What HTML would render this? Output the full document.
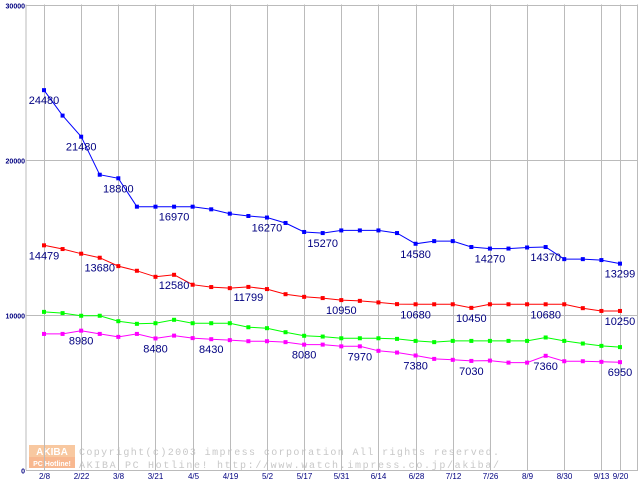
<!DOCTYPE html>
<html><head><meta charset="utf-8"><style>
html,body{margin:0;padding:0;background:#fff;}
svg{display:block;}
</style></head><body>
<svg id="chart" width="640" height="480" viewBox="0 0 640 480" xmlns="http://www.w3.org/2000/svg" font-family="'Liberation Sans', sans-serif">
<g id="wm">
  <rect x="29" y="445" width="46" height="12" fill="#f8c8a0"/>
  <rect x="29" y="457" width="46" height="11" fill="#f8b890"/>
  <text x="52" y="455" font-size="10" fill="#fff" text-anchor="middle" font-weight="bold">AKIBA</text>
  <text x="52" y="466" font-size="7" fill="#fff" text-anchor="middle" font-weight="bold">PC Hotline!</text>
  <text x="79" y="455" font-size="10" fill="#c8c8c8" font-family="'Liberation Mono', monospace" textLength="420">Copyright(c)2003 impress corporation All rights reserved.</text>
  <text x="79" y="468" font-size="10" fill="#c8c8c8" font-family="'Liberation Mono', monospace" textLength="420">AKIBA PC Hotline!  http://www.watch.impress.co.jp/akiba/</text>
</g>
<g id="grid"></g>
<g id="series"></g>
<g id="labels"></g>
</svg>
<script>
const dates = ["2/8","2/22","3/8","3/21","4/5","4/19","5/2","5/17","5/31","6/14","6/28","7/12","7/26","8/9","8/30","9/13","9/20"];
const dateIdx = [0,2,4,6,8,10,12,14,16,18,20,22,24,26,28,30,31];
const yTicks = [0,10000,20000,30000];
const blue = [24480,22840,21480,19030,18800,16970,16970,16970,16970,16800,16520,16370,16270,15920,15340,15270,15440,15440,15440,15270,14580,14750,14750,14370,14270,14270,14340,14370,13590,13590,13530,13299];
const red = [14479,14240,13940,13680,13140,12840,12450,12580,11940,11790,11720,11799,11660,11330,11160,11080,10950,10900,10800,10690,10680,10680,10680,10450,10680,10680,10680,10680,10680,10430,10250,10250];
const green = [10190,10110,9940,9940,9590,9420,9460,9680,9460,9460,9460,9200,9140,8880,8650,8600,8490,8490,8490,8450,8320,8240,8320,8320,8320,8320,8320,8540,8320,8150,8000,7920];
const magenta = [8770,8770,8980,8770,8580,8770,8480,8660,8500,8430,8370,8300,8300,8240,8080,8080,7970,7970,7680,7570,7380,7160,7100,7030,7050,6920,6920,7360,7010,7010,6970,6950];
const blueLabelIdx = [0,2,4,7,12,15,20,24,27,31];
const redLabelIdx = [0,3,7,11,16,20,23,27,31];
const magentaLabelIdx = [2,6,9,14,17,20,23,27,31];

const NS = "http://www.w3.org/2000/svg";
const X0 = 44, DX = 18.58, Y0 = 470, YMAX = 30000, YTOP = 4.5;
function xs(i){ return X0 + i*DX; }
function ys(v){ return Y0 - v/YMAX*(Y0-YTOP); }
function mk(tag, attrs, parent){
  const e = document.createElementNS(NS, tag);
  for (const k in attrs) e.setAttribute(k, attrs[k]);
  parent.appendChild(e); return e;
}
const grid = document.getElementById('grid');
const ser = document.getElementById('series');
const lab = document.getElementById('labels');

// axes frame
let ax = mk('line',{x1:26,y1:YTOP,x2:26,y2:Y0,stroke:'#bbb','stroke-width':1},grid);


let rx = mk('line',{x1:637.5,y1:YTOP,x2:637.5,y2:Y0,stroke:'#bbb','stroke-width':1},grid);



yTicks.forEach(v=>{
  const y = Math.round(ys(v))+0.5;
  const l = mk('line',{x1:26,y1:y,x2:638,y2:y,stroke:'#bbb','stroke-width':1},grid);
  
  
  const t = mk('text',{x:25,y:y+3,'font-size':7,'font-weight':'bold',fill:'#000080','text-anchor':'end'},grid);
  t.textContent = v;
  
  
});
dateIdx.forEach((i,k)=>{
  const x = Math.round(xs(i))+0.5;
  const l = mk('line',{x1:x,y1:YTOP,x2:x,y2:Y0,stroke:'#bbb','stroke-width':1},grid);
  
  
  const t = mk('text',{x:x,y:479,'font-size':8,fill:'#000080','text-anchor':'middle'},grid);
  t.textContent = dates[k];
  
  
});

function drawSeries(vals, color, name, labIdx){
  const pts = vals.map((v,i)=>xs(i).toFixed(1)+','+ys(v).toFixed(1)).join(' ');
  const pl = mk('polyline',{points:pts,fill:'none',stroke:color,'stroke-width':1},ser);
  
  
  vals.forEach((v,i)=>{
    const r = mk('rect',{x:xs(i)-2,y:ys(v)-2,width:4,height:4,fill:color},ser);
    
    
  });
  labIdx.forEach(i=>{
    const t = mk('text',{x:xs(i),y:ys(vals[i])+14,'font-size':11,fill:'#000080','text-anchor':'middle'},lab);
    t.textContent = vals[i];
    
    
  });
}
drawSeries(blue,'#0000ff','blue-series',blueLabelIdx);
drawSeries(red,'#ff0000','red-series',redLabelIdx);
drawSeries(green,'#00ff00','green-series',[]);
drawSeries(magenta,'#ff00ff','magenta-series',magentaLabelIdx);
</script>
</body></html>
